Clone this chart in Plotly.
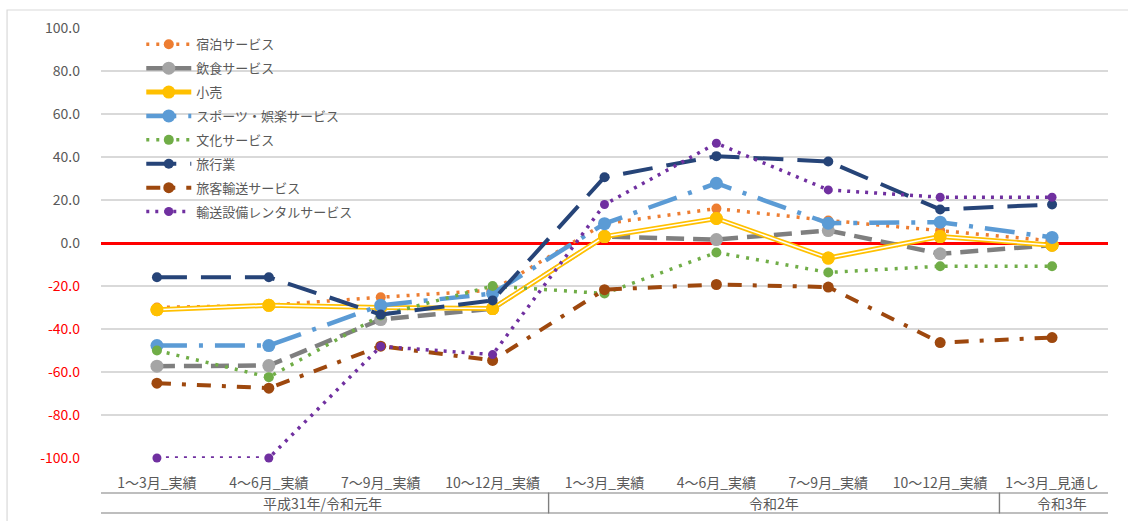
import plotly.graph_objects as go

categories = ["1～3月_実績", "4～6月_実績", "7～9月_実績", "10～12月_実績",
              "1～3月_実績 ", "4～6月_実績 ", "7～9月_実績 ", "10～12月_実績 ", "1～3月_見通し"]
tick_labels = ["1～3月_実績", "4～6月_実績", "7～9月_実績", "10～12月_実績",
               "1～3月_実績", "4～6月_実績", "7～9月_実績", "10～12月_実績", "1～3月_見通し"]
year_groups = ["平成31年/令和元年", "令和2年", "令和3年"]

shukuhaku = [-30.0, -29.0, -25.2, -22.0, 9.0, 16.0, 10.5, 5.8, 1.0]
inshoku = [-57.3, -57.0, -35.6, -30.5, 3.0, 1.6, 5.8, -5.0, -1.0]
kouri = [-31.0, -29.0, -30.0, -30.5, 3.0, 11.4, -7.0, 3.0, -1.0]
sports = [-47.7, -47.7, -29.0, -23.5, 9.0, 27.8, 9.2, 9.7, 2.6]
bunka = [-50.0, -62.4, -33.7, -20.0, -23.5, -4.4, -13.7, -10.8, -10.8]
ryokou = [-15.9, -15.9, -33.3, -26.7, 30.6, 40.4, 37.9, 15.6, 17.9]
ryokaku = [-65.2, -67.5, -48.0, -54.6, -21.7, -19.3, -20.5, -46.3, -44.0]
rental = [-100.0, -100.0, -48.1, -51.9, 17.9, 46.4, 24.7, 21.3, 21.3]

pos_ticks = [100, 80, 60, 40, 20, 0]
neg_ticks = [-20, -40, -60, -80, -100]

series = [
    ("宿泊サービス", shukuhaku, "#ED7D31", "#ED7D31", 3.5, "3px,7px", 10),
    ("飲食サービス", inshoku, "#7F7F7F", "#A5A5A5", 4.5, "18px,9px", 13),
    ("小売", kouri, "#FFC000", "#FFC000", 5, "solid", 13),
    ("スポーツ・娯楽サービス", sports, "#5B9BD5", "#5B9BD5", 4.5, "30px,12px,4px,12px", 13),
    ("文化サービス", bunka, "#70AD47", "#70AD47", 3.5, "3px,7px", 10),
    ("旅行業", ryokou, "#264478", "#264478", 4, "30px,14px", 10),
    ("旅客輸送サービス", ryokaku, "#9E480E", "#9E480E", 4, "14px,11px,4px,11px", 11),
    ("輸送設備レンタルサービス", rental, "#7030A0", "#7030A0", 3.5, "3px,6px", 9),
]

fig = go.Figure()
for name, vals, lc, mc, w, dash, ms in series:
    fig.add_trace(go.Scatter(
        x=categories, y=vals, name=name, mode="lines+markers",
        line=dict(color=lc, width=w, dash=dash),
        marker=dict(color=mc, size=ms, symbol="circle"),
        legendgroup=name, cliponaxis=False,
    ))
    if name == "小売":
        fig.add_trace(go.Scatter(
            x=categories, y=vals, mode="lines", showlegend=False,
            line=dict(color="white", width=1.5), hoverinfo="skip",
            legendgroup=name, cliponaxis=False,
        ))
        fig.add_trace(go.Scatter(
            x=categories, y=vals, mode="markers", showlegend=False,
            marker=dict(color=mc, size=ms, symbol="circle"), hoverinfo="skip",
            legendgroup=name, cliponaxis=False,
        ))

# invisible trace to carry the secondary (red, negative) tick axis
fig.add_trace(go.Scatter(x=[categories[0]], y=[0], yaxis="y2", mode="markers",
                         marker=dict(opacity=0), showlegend=False, hoverinfo="skip"))

grey = "#595959"
fig.update_layout(
    width=1128, height=521,
    margin=dict(l=101, r=20, t=28, b=63),
    paper_bgcolor="white", plot_bgcolor="white",
    font=dict(family="Noto Sans CJK JP", size=14, color=grey),
    showlegend=True,
    legend=dict(x=0.04, y=0.997, xanchor="left", yanchor="top",
                bgcolor="rgba(0,0,0,0)", font=dict(size=13, color=grey),
                tracegroupgap=4, itemwidth=45),
    xaxis=dict(type="category", range=[-0.5, 8.5], showgrid=False,
               tickmode="array", tickvals=categories, ticktext=tick_labels,
               tickfont=dict(size=14, color=grey), ticks="",
               ticklabelstandoff=15, showline=False, zeroline=False),
    yaxis=dict(range=[-100, 100], tickmode="array", tickvals=pos_ticks + neg_ticks,
               ticktext=[f"{t:.1f}" for t in pos_ticks] + [""] * len(neg_ticks),
               showgrid=True, gridcolor="#D9D9D9", gridwidth=1.5,
               zeroline=True, zerolinecolor="#FF0000", zerolinewidth=3,
               tickfont=dict(size=14, color=grey),
               ticklabelstandoff=20, showline=False),
    yaxis2=dict(range=[-100, 100], overlaying="y", side="left", tickmode="array",
                tickvals=neg_ticks, ticktext=[f"{t:.1f}" for t in neg_ticks],
                showgrid=False, zeroline=False, showline=False,
                tickfont=dict(size=14, color="#FF0000"), ticklabelstandoff=20),
)

# group boxes under the axis
bounds = [(-0.54, 3.5), (3.5, 7.53), (7.53, 8.64)]
for (x0, x1), lab in zip(bounds, year_groups):
    fig.add_shape(type="rect", xref="x", yref="paper", x0=x0, x1=x1,
                  y0=-0.1279, y1=-0.0814, line=dict(color="#7F7F7F", width=1.2))
    fig.add_annotation(x=(x0 + x1) / 2, y=-0.1047, xref="x", yref="paper",
                       text=lab, showarrow=False, font=dict(size=14, color=grey),
                       xanchor="center", yanchor="middle")

# outer chart frame
fig.add_shape(type="rect", xref="paper", yref="paper", x0=-0.0933, x1=1.05,
              y0=-0.3, y1=1.0419, line=dict(color="#D9D9D9", width=1.2))

fig.write_html("out.html", config={"displayModeBar": False},
               post_script="document.body.style.margin='0px';")
